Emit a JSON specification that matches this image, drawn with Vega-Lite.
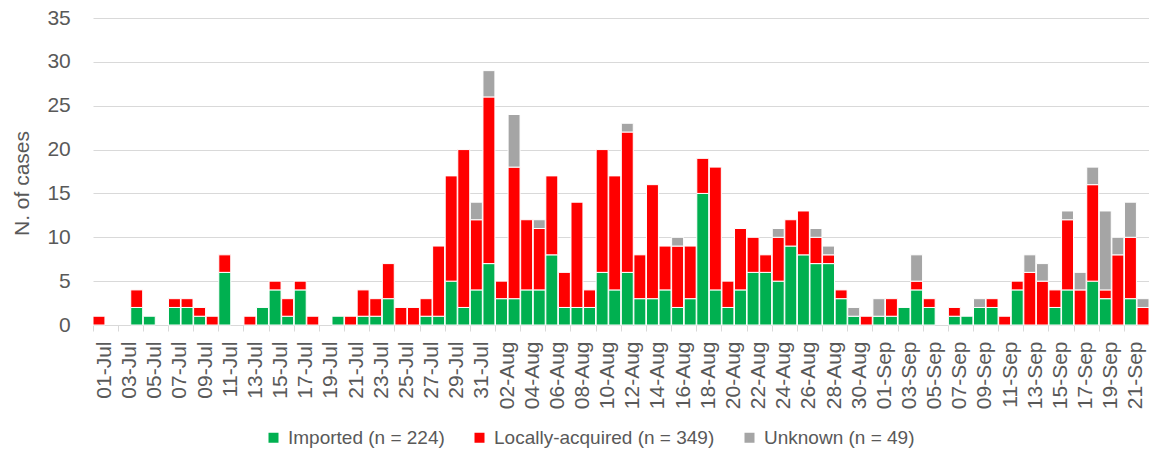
{
  "$schema": "https://vega.github.io/schema/vega-lite/v6.json",
  "width": 1056,
  "height": 307,
  "autosize": "none",
  "padding": {"left": 93, "top": 18, "right": 0, "bottom": 132},
  "background": "white",
  "config": {"view": {"stroke": null}, "font": "Liberation Sans"},
  "data": {"values": [
    {"d":"01-Jul","Imported":0,"Locally-acquired":1,"Unknown":0},
    {"d":"02-Jul","Imported":0,"Locally-acquired":0,"Unknown":0},
    {"d":"03-Jul","Imported":0,"Locally-acquired":0,"Unknown":0},
    {"d":"04-Jul","Imported":2,"Locally-acquired":2,"Unknown":0},
    {"d":"05-Jul","Imported":1,"Locally-acquired":0,"Unknown":0},
    {"d":"06-Jul","Imported":0,"Locally-acquired":0,"Unknown":0},
    {"d":"07-Jul","Imported":2,"Locally-acquired":1,"Unknown":0},
    {"d":"08-Jul","Imported":2,"Locally-acquired":1,"Unknown":0},
    {"d":"09-Jul","Imported":1,"Locally-acquired":1,"Unknown":0},
    {"d":"10-Jul","Imported":0,"Locally-acquired":1,"Unknown":0},
    {"d":"11-Jul","Imported":6,"Locally-acquired":2,"Unknown":0},
    {"d":"12-Jul","Imported":0,"Locally-acquired":0,"Unknown":0},
    {"d":"13-Jul","Imported":0,"Locally-acquired":1,"Unknown":0},
    {"d":"14-Jul","Imported":2,"Locally-acquired":0,"Unknown":0},
    {"d":"15-Jul","Imported":4,"Locally-acquired":1,"Unknown":0},
    {"d":"16-Jul","Imported":1,"Locally-acquired":2,"Unknown":0},
    {"d":"17-Jul","Imported":4,"Locally-acquired":1,"Unknown":0},
    {"d":"18-Jul","Imported":0,"Locally-acquired":1,"Unknown":0},
    {"d":"19-Jul","Imported":0,"Locally-acquired":0,"Unknown":0},
    {"d":"20-Jul","Imported":1,"Locally-acquired":0,"Unknown":0},
    {"d":"21-Jul","Imported":0,"Locally-acquired":1,"Unknown":0},
    {"d":"22-Jul","Imported":1,"Locally-acquired":3,"Unknown":0},
    {"d":"23-Jul","Imported":1,"Locally-acquired":2,"Unknown":0},
    {"d":"24-Jul","Imported":3,"Locally-acquired":4,"Unknown":0},
    {"d":"25-Jul","Imported":0,"Locally-acquired":2,"Unknown":0},
    {"d":"26-Jul","Imported":0,"Locally-acquired":2,"Unknown":0},
    {"d":"27-Jul","Imported":1,"Locally-acquired":2,"Unknown":0},
    {"d":"28-Jul","Imported":1,"Locally-acquired":8,"Unknown":0},
    {"d":"29-Jul","Imported":5,"Locally-acquired":12,"Unknown":0},
    {"d":"30-Jul","Imported":2,"Locally-acquired":18,"Unknown":0},
    {"d":"31-Jul","Imported":4,"Locally-acquired":8,"Unknown":2},
    {"d":"01-Aug","Imported":7,"Locally-acquired":19,"Unknown":3},
    {"d":"02-Aug","Imported":3,"Locally-acquired":2,"Unknown":0},
    {"d":"03-Aug","Imported":3,"Locally-acquired":15,"Unknown":6},
    {"d":"04-Aug","Imported":4,"Locally-acquired":8,"Unknown":0},
    {"d":"05-Aug","Imported":4,"Locally-acquired":7,"Unknown":1},
    {"d":"06-Aug","Imported":8,"Locally-acquired":9,"Unknown":0},
    {"d":"07-Aug","Imported":2,"Locally-acquired":4,"Unknown":0},
    {"d":"08-Aug","Imported":2,"Locally-acquired":12,"Unknown":0},
    {"d":"09-Aug","Imported":2,"Locally-acquired":2,"Unknown":0},
    {"d":"10-Aug","Imported":6,"Locally-acquired":14,"Unknown":0},
    {"d":"11-Aug","Imported":4,"Locally-acquired":13,"Unknown":0},
    {"d":"12-Aug","Imported":6,"Locally-acquired":16,"Unknown":1},
    {"d":"13-Aug","Imported":3,"Locally-acquired":5,"Unknown":0},
    {"d":"14-Aug","Imported":3,"Locally-acquired":13,"Unknown":0},
    {"d":"15-Aug","Imported":4,"Locally-acquired":5,"Unknown":0},
    {"d":"16-Aug","Imported":2,"Locally-acquired":7,"Unknown":1},
    {"d":"17-Aug","Imported":3,"Locally-acquired":6,"Unknown":0},
    {"d":"18-Aug","Imported":15,"Locally-acquired":4,"Unknown":0},
    {"d":"19-Aug","Imported":4,"Locally-acquired":14,"Unknown":0},
    {"d":"20-Aug","Imported":2,"Locally-acquired":3,"Unknown":0},
    {"d":"21-Aug","Imported":4,"Locally-acquired":7,"Unknown":0},
    {"d":"22-Aug","Imported":6,"Locally-acquired":4,"Unknown":0},
    {"d":"23-Aug","Imported":6,"Locally-acquired":2,"Unknown":0},
    {"d":"24-Aug","Imported":5,"Locally-acquired":5,"Unknown":1},
    {"d":"25-Aug","Imported":9,"Locally-acquired":3,"Unknown":0},
    {"d":"26-Aug","Imported":8,"Locally-acquired":5,"Unknown":0},
    {"d":"27-Aug","Imported":7,"Locally-acquired":3,"Unknown":1},
    {"d":"28-Aug","Imported":7,"Locally-acquired":1,"Unknown":1},
    {"d":"29-Aug","Imported":3,"Locally-acquired":1,"Unknown":0},
    {"d":"30-Aug","Imported":1,"Locally-acquired":0,"Unknown":1},
    {"d":"31-Aug","Imported":0,"Locally-acquired":1,"Unknown":0},
    {"d":"01-Sep","Imported":1,"Locally-acquired":0,"Unknown":2},
    {"d":"02-Sep","Imported":1,"Locally-acquired":2,"Unknown":0},
    {"d":"03-Sep","Imported":2,"Locally-acquired":0,"Unknown":0},
    {"d":"04-Sep","Imported":4,"Locally-acquired":1,"Unknown":3},
    {"d":"05-Sep","Imported":2,"Locally-acquired":1,"Unknown":0},
    {"d":"06-Sep","Imported":0,"Locally-acquired":0,"Unknown":0},
    {"d":"07-Sep","Imported":1,"Locally-acquired":1,"Unknown":0},
    {"d":"08-Sep","Imported":1,"Locally-acquired":0,"Unknown":0},
    {"d":"09-Sep","Imported":2,"Locally-acquired":0,"Unknown":1},
    {"d":"10-Sep","Imported":2,"Locally-acquired":1,"Unknown":0},
    {"d":"11-Sep","Imported":0,"Locally-acquired":1,"Unknown":0},
    {"d":"12-Sep","Imported":4,"Locally-acquired":1,"Unknown":0},
    {"d":"13-Sep","Imported":0,"Locally-acquired":6,"Unknown":2},
    {"d":"14-Sep","Imported":0,"Locally-acquired":5,"Unknown":2},
    {"d":"15-Sep","Imported":2,"Locally-acquired":2,"Unknown":0},
    {"d":"16-Sep","Imported":4,"Locally-acquired":8,"Unknown":1},
    {"d":"17-Sep","Imported":0,"Locally-acquired":4,"Unknown":2},
    {"d":"18-Sep","Imported":5,"Locally-acquired":11,"Unknown":2},
    {"d":"19-Sep","Imported":3,"Locally-acquired":1,"Unknown":9},
    {"d":"20-Sep","Imported":0,"Locally-acquired":8,"Unknown":2},
    {"d":"21-Sep","Imported":3,"Locally-acquired":7,"Unknown":4},
    {"d":"22-Sep","Imported":0,"Locally-acquired":2,"Unknown":1}
  ]},
  "transform": [{"fold": ["Imported", "Locally-acquired", "Unknown"], "as": ["type", "n"]}],
  "mark": {"type": "bar", "stroke": "white", "strokeWidth": 1},
  "encoding": {
    "x": {
      "field": "d", "type": "ordinal", "sort": null,
      "scale": {"paddingInner": 0.05, "paddingOuter": 0},
      "axis": {
        "title": null,
        "values": ["01-Jul","03-Jul","05-Jul","07-Jul","09-Jul","11-Jul","13-Jul","15-Jul","17-Jul","19-Jul","21-Jul","23-Jul","25-Jul","27-Jul","29-Jul","31-Jul","02-Aug","04-Aug","06-Aug","08-Aug","10-Aug","12-Aug","14-Aug","16-Aug","18-Aug","20-Aug","22-Aug","24-Aug","26-Aug","28-Aug","30-Aug","01-Sep","03-Sep","05-Sep","07-Sep","09-Sep","11-Sep","13-Sep","15-Sep","17-Sep","19-Sep","21-Sep"],
        "bandPosition": 0,
        "labelOffset": 6,
        "labelAngle": 270,
        "labelAlign": "right",
        "labelBaseline": "middle",
        "labelFontSize": 21,
        "labelColor": "#595959",
        "labelPadding": 10,
        "tickSize": 6,
        "tickColor": "#d9d9d9",
        "domainColor": "#d9d9d9",
        "grid": false,
        "labelOverlap": false
      }
    },
    "y": {
      "field": "n", "type": "quantitative", "stack": "zero",
      "scale": {"domain": [0, 35], "nice": false},
      "axis": {
        "values": [0, 5, 10, 15, 20, 25, 30, 35],
        "title": "N. of cases",
        "titleFontSize": 21,
        "titleFontWeight": "normal",
        "titleColor": "#595959",
        "titleAngle": 270,
        "titleX": -64.4,
        "titleY": 165,
        "titleAlign": "center",
        "titleBaseline": "alphabetic",
        "labelFontSize": 21,
        "labelColor": "#595959",
        "labelPadding": 22.7,
        "ticks": false,
        "domain": false,
        "gridColor": "#d9d9d9",
        "gridWidth": 1
      }
    },
    "order": {"field": "type", "type": "ordinal", "sort": "ascending"},
    "color": {
      "field": "type", "type": "nominal",
      "scale": {"domain": ["Imported", "Locally-acquired", "Unknown"], "range": ["#00B050", "#FF0000", "#A5A5A5"]},
      "legend": {
        "orient": "none",
        "legendX": 171,
        "legendY": 410,
        "direction": "horizontal",
        "title": null,
        "symbolType": "square",
        "symbolSize": 100,
        "symbolStrokeWidth": 0,
        "labelFontSize": 19,
        "labelColor": "#595959",
        "labelOffset": 5,
        "labelLimit": 400,
        "columnPadding": 25,
        "padding": 0,
        "labelExpr": "datum.label == 'Imported' ? 'Imported (n = 224)' : datum.label == 'Locally-acquired' ? 'Locally-acquired (n = 349)' : 'Unknown (n = 49)'"
      }
    },
    "strokeOpacity": {"condition": {"test": "datum.n > 0", "value": 1}, "value": 0}
  }
}
